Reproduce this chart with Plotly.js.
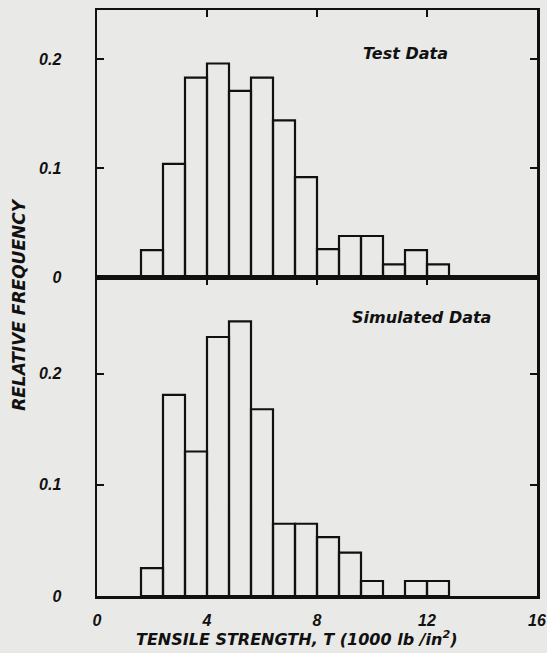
<!DOCTYPE html>
<html>
<head>
<meta charset="utf-8">
<script src="https://cdn.plot.ly/plotly-3.0.1.min.js"></script>
<style>
html,body{margin:0;padding:0;background:#e9e9e7;}
#chart{width:547px;height:653px;}
</style>
</head>
<body>
<div id="chart"></div>
<script>
// bin centres (1000 lb/in^2), bin width 0.8
const binCenters = [2.0, 2.8, 3.6, 4.4, 5.2, 6.0, 6.8, 7.6, 8.4, 9.2, 10.0, 10.8, 11.6, 12.4];
const testData =      [0.025, 0.104, 0.183, 0.196, 0.171, 0.183, 0.144, 0.092, 0.026, 0.038, 0.038, 0.012, 0.025, 0.012];
const simulatedData = [0.025, 0.181, 0.130, 0.233, 0.247, 0.168, 0.065, 0.065, 0.053, 0.039, 0.0135, 0, 0.0135, 0.0135];
const xTickVals = [0, 4, 8, 12, 16];
const xTickText = ['0', '4', '8', '12', '16'];
const yTickVals = [0, 0.1, 0.2];
const yTickText = ['0', '0.1', '0.2'];

const ink = '#111111';
const paper = '#e9e9e7';
const tickFont = {family: 'Liberation Sans, Arial, sans-serif', size: 16, color: ink, style: 'italic', weight: 'bold'};
const labFont = {family: 'DejaVu Sans, sans-serif', size: 15, color: ink, style: 'italic', weight: 'bold'};

const barStyle = {color: 'rgba(0,0,0,0)', line: {color: ink, width: 2.2}};

const traces = [
  {type: 'bar', x: binCenters, y: testData, width: 0.8, marker: barStyle, xaxis: 'x2', yaxis: 'y2', hoverinfo: 'x+y'},
  {type: 'bar', x: binCenters, y: simulatedData, width: 0.8, marker: barStyle, xaxis: 'x', yaxis: 'y', hoverinfo: 'x+y'}
];

const axCommon = {
  showline: true, linecolor: ink, linewidth: 2.5, mirror: 'ticks',
  ticks: 'inside', ticklen: 7, tickwidth: 2.2, tickcolor: ink,
  showgrid: false, zeroline: false, tickfont: tickFont
};

const layout = {
  width: 547, height: 653,
  margin: {l: 97, r: 10, t: 10, b: 57},
  paper_bgcolor: paper, plot_bgcolor: paper,
  showlegend: false, bargap: 0,
  xaxis: Object.assign({}, axCommon, {
    domain: [0, 1], anchor: 'y', range: [0, 16],
    tickvals: xTickVals, ticktext: xTickText, ticklabelstandoff: 8
  }),
  yaxis: Object.assign({}, axCommon, {
    domain: [0, 0.5435], anchor: 'x', range: [0, 0.2865],
    tickvals: yTickVals, ticktext: yTickText, ticklabelstandoff: 30
  }),
  xaxis2: Object.assign({}, axCommon, {
    domain: [0, 1], anchor: 'y2', range: [0, 16], matches: 'x',
    tickvals: xTickVals, showticklabels: false
  }),
  yaxis2: Object.assign({}, axCommon, {
    domain: [0.5435, 1], anchor: 'x2', range: [0, 0.245],
    tickvals: yTickVals, ticktext: yTickText, ticklabelstandoff: 30
  }),
  annotations: [
    {text: 'Test Data', xref: 'x2', yref: 'y2', x: 11.2, y: 0.205, showarrow: false,
     font: Object.assign({}, labFont, {size: 16}), xanchor: 'center', yanchor: 'middle'},
    {text: 'Simulated Data', xref: 'x', yref: 'y', x: 11.8, y: 0.2505, showarrow: false,
     font: Object.assign({}, labFont, {size: 16}), xanchor: 'center', yanchor: 'middle'},
    {text: 'RELATIVE FREQUENCY', xref: 'paper', yref: 'paper', x: -0.178, y: 0.498, textangle: -90,
     showarrow: false, font: Object.assign({}, labFont, {size: 17}), xanchor: 'center', yanchor: 'middle'},
    {text: 'TENSILE STRENGTH, T (1000 lb /in<sup>2</sup>)', xref: 'paper', yref: 'paper', x: 0.455, y: -0.072,
     showarrow: false, font: Object.assign({}, labFont, {size: 16}), xanchor: 'center', yanchor: 'middle'}
  ]
};

Plotly.newPlot('chart', traces, layout, {displayModeBar: false, staticPlot: true});
</script>
</body>
</html>
